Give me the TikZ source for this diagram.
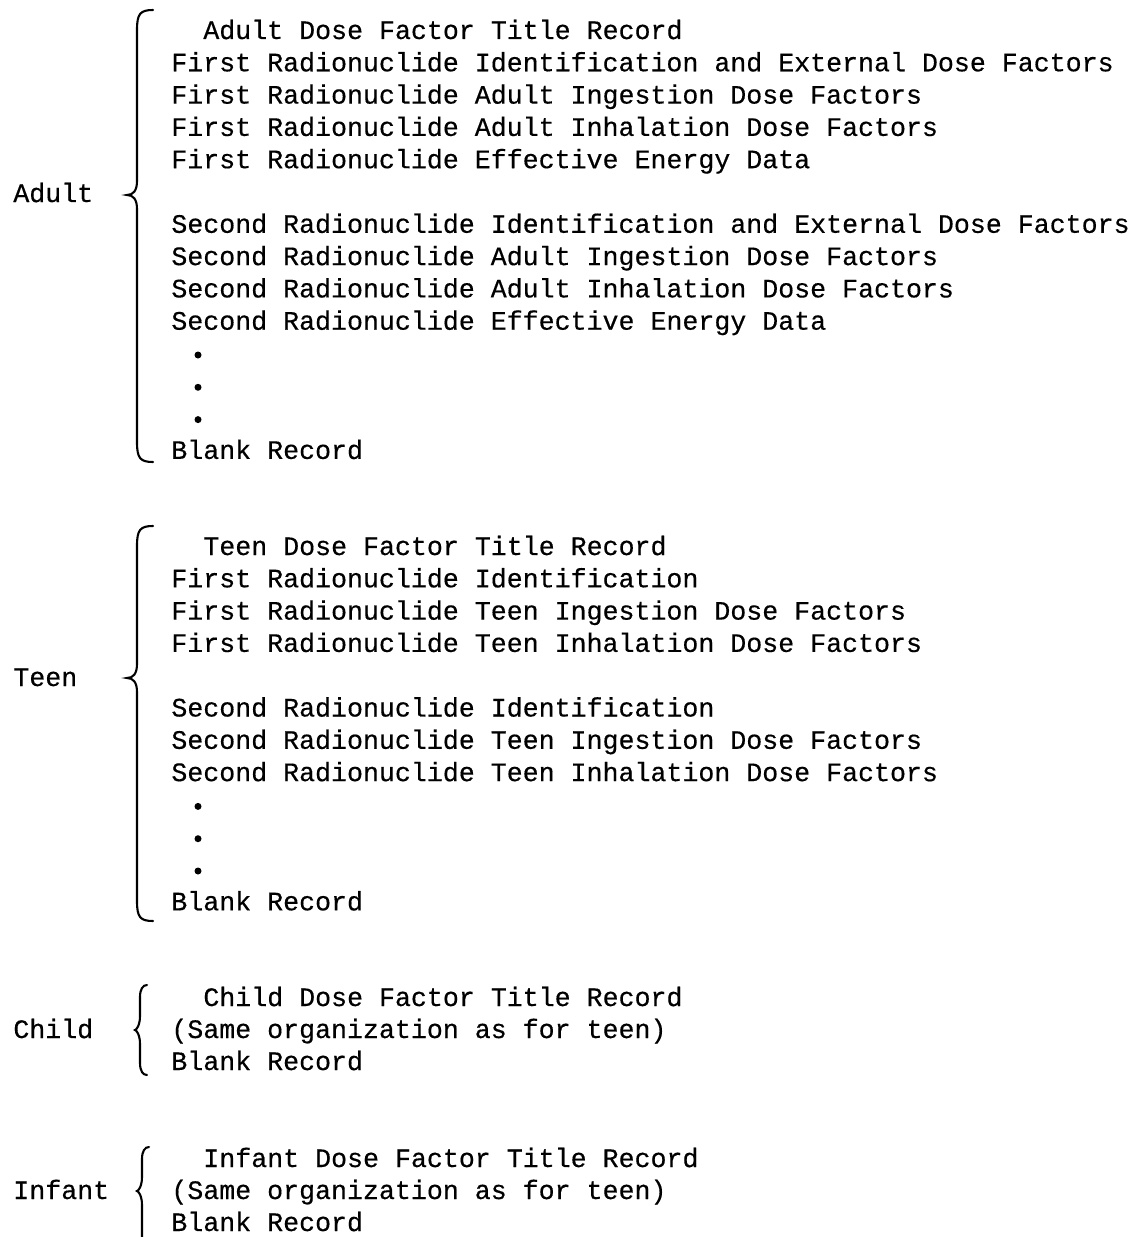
\documentclass[tikz,border=0pt]{standalone}
\usepackage{fontspec}
\newfontfamily\recfont[FakeBold=0.4]{Liberation Mono}
\usepackage{tikz}
\usetikzlibrary{calc}

% brace: spine x, hook x, tip x, top y, tip y, bottom y, curl
\newcommand{\agebrace}[7]{%
  \draw[recbrace] (#2,#4) .. controls ({#1+3},#4) and (#1,{#4+4}) .. (#1,{#4+#7})
    -- (#1,{#5-14}) .. controls (#1,{#5-4}) and ({#1-4},#5) .. (#3,#5)
    .. controls ({#1-4},#5) and (#1,{#5+4}) .. (#1,{#5+14})
    -- (#1,{#6-#7}) .. controls (#1,{#6-4}) and ({#1+3},#6) .. (#2,#6);}

\begin{document}
\begin{tikzpicture}[x=0.02cm, y=-0.02cm,
  recline/.style={anchor=base west, inner sep=0pt, font=\fontsize{15.15}{18}\recfont},
  agelabel/.style={recline},
  recbrace/.style={line width=1.2pt, line cap=round},
  recdot/.style={fill=black}
]
  \useasboundingbox (0,0) rectangle (1134,1237);

  % Adult
  \node[agelabel] (adult) at (13, 202) {Adult};
  \agebrace{137}{153}{127}{10}{195}{462}{20}
  \node[recline] (adult0) at (203, 39) {Adult Dose Factor Title Record};
  \foreach \row/\txt in {1/First Radionuclide Identification and External Dose Factors,
      2/First Radionuclide Adult Ingestion Dose Factors,
      3/First Radionuclide Adult Inhalation Dose Factors,
      4/First Radionuclide Effective Energy Data,
      6/Second Radionuclide Identification and External Dose Factors,
      7/Second Radionuclide Adult Ingestion Dose Factors,
      8/Second Radionuclide Adult Inhalation Dose Factors,
      9/Second Radionuclide Effective Energy Data,
      13/Blank Record}
    \node[recline] (adult\row) at (171, {39+32.3*\row}) {\txt};
  \foreach \row in {10,11,12}
    \fill[recdot] (198, {39+32.3*\row-7}) circle (3.5);

  % Teen
  \node[agelabel] (teen) at (13, 686) {Teen};
  \agebrace{137}{153}{127}{526}{678}{921}{20}
  \node[recline] (teen0) at (203, 555) {Teen Dose Factor Title Record};
  \foreach \row/\txt in {1/First Radionuclide Identification,
      2/First Radionuclide Teen Ingestion Dose Factors,
      3/First Radionuclide Teen Inhalation Dose Factors,
      5/Second Radionuclide Identification,
      6/Second Radionuclide Teen Ingestion Dose Factors,
      7/Second Radionuclide Teen Inhalation Dose Factors,
      11/Blank Record}
    \node[recline] (teen\row) at (171, {555+32.3*\row}) {\txt};
  \foreach \row in {8,9,10}
    \fill[recdot] (198, {555+32.3*\row-7}) circle (3.5);

  % Child
  \node[agelabel] (child) at (13, 1038) {Child};
  \agebrace{140}{147}{135}{985}{1030}{1075}{12}
  \node[recline] (child0) at (203, 1006) {Child Dose Factor Title Record};
  \node[recline] (child1) at (171, 1038) {(Same organization as for teen)};
  \node[recline] (child2) at (171, 1070) {Blank Record};

  % Infant
  \node[agelabel] (infant) at (13, 1199) {Infant};
  \agebrace{142}{149}{137}{1147}{1191}{1252}{12}
  \node[recline] (infant0) at (203, 1167) {Infant Dose Factor Title Record};
  \node[recline] (infant1) at (171, 1199) {(Same organization as for teen)};
  \node[recline] (infant2) at (171, 1231) {Blank Record};
\end{tikzpicture}
\end{document}
